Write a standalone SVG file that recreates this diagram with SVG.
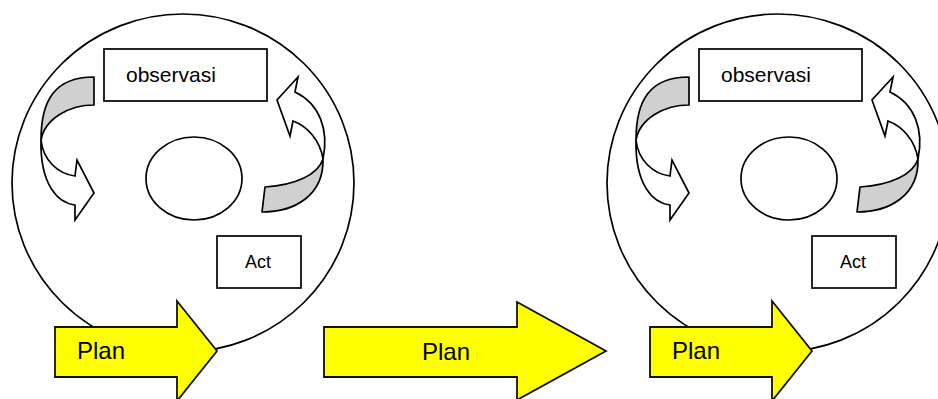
<svg xmlns="http://www.w3.org/2000/svg" width="938" height="399" viewBox="0 0 938 399">
<style>
.ln{fill:#fff;stroke:#000;stroke-width:1.7}
.gr{fill:#d0d0d0;stroke:#000;stroke-width:1.7;stroke-linejoin:round}
.fr{fill:#fff;stroke:#000;stroke-width:1.7;stroke-linejoin:miter}
.pl{fill:#ffff00;stroke:#111;stroke-width:1.8;stroke-linejoin:miter}
.t{font-family:"Liberation Sans",Arial,sans-serif;fill:#000}
</style>
<rect width="938" height="399" fill="#fff"/>
<g id="cycle1-circle"><ellipse class="ln" cx="183" cy="183" rx="171" ry="169"/></g>
<g id="cycle2-circle"><ellipse class="ln" cx="778" cy="183" rx="171" ry="169"/></g>
<g id="cycle1-observasi"><rect class="ln" x="104" y="49" width="163" height="52"/><text class="t" x="126" y="82" font-size="21">observasi</text></g>
<g id="cycle1-center"><ellipse class="ln" cx="194" cy="178.5" rx="48" ry="41.5"/></g>
<g id="cycle1-act"><rect class="ln" x="217" y="236" width="84" height="52"/><text class="t" x="245" y="268" font-size="18">Act</text></g>
<g id="cycle2-observasi"><rect class="ln" x="699" y="49" width="163" height="52"/><text class="t" x="721" y="82" font-size="21">observasi</text></g>
<g id="cycle2-center"><ellipse class="ln" cx="789" cy="178.5" rx="48" ry="41.5"/></g>
<g id="cycle2-act"><rect class="ln" x="812" y="236" width="84" height="52"/><text class="t" x="840" y="268" font-size="18">Act</text></g>
<g id="connectors">
<g id="cycle1-arrows">
<path class="gr" d="M94,77 C55,77 41,100 41,140 C45,118 70,105 94,105 Z"/>
<path class="fr" d="M41,140 C40,185 58,203 75,205 L75,220 L94,193 L77,160 L75,176 C58,174 43,160 41,140 Z"/>
<path class="gr" d="M262,212 L265,187 C295,185 318,175 323,159 C324,195 295,212 262,212 Z"/>
<path class="fr" d="M323,159 C329,130 320,104 295,92 L298,77 L277,100 L290,136 L293,121 C307,126 320,140 323,159 Z"/>
</g>
<g id="cycle2-arrows" transform="translate(595,0)">
<path class="gr" d="M94,77 C55,77 41,100 41,140 C45,118 70,105 94,105 Z"/>
<path class="fr" d="M41,140 C40,185 58,203 75,205 L75,220 L94,193 L77,160 L75,176 C58,174 43,160 41,140 Z"/>
<path class="gr" d="M262,212 L265,187 C295,185 318,175 323,159 C324,195 295,212 262,212 Z"/>
<path class="fr" d="M323,159 C329,130 320,104 295,92 L298,77 L277,100 L290,136 L293,121 C307,126 320,140 323,159 Z"/>
</g>
</g>
<g id="plan1"><path class="pl" d="M55,327 L177,327 L177,301 L217,351 L177,401 L177,377 L55,377 Z"/><text class="t" x="77" y="359" font-size="24">Plan</text></g>
<g id="plan2"><path class="pl" d="M324,327 L517,327 L517,302 L606,351 L517,400 L517,377 L324,377 Z"/><text class="t" x="446" y="360" font-size="24" text-anchor="middle">Plan</text></g>
<g id="plan3"><path class="pl" d="M650,327 L772,327 L772,301 L812,351 L772,401 L772,377 L650,377 Z"/><text class="t" x="672" y="359" font-size="24">Plan</text></g>
</svg>
